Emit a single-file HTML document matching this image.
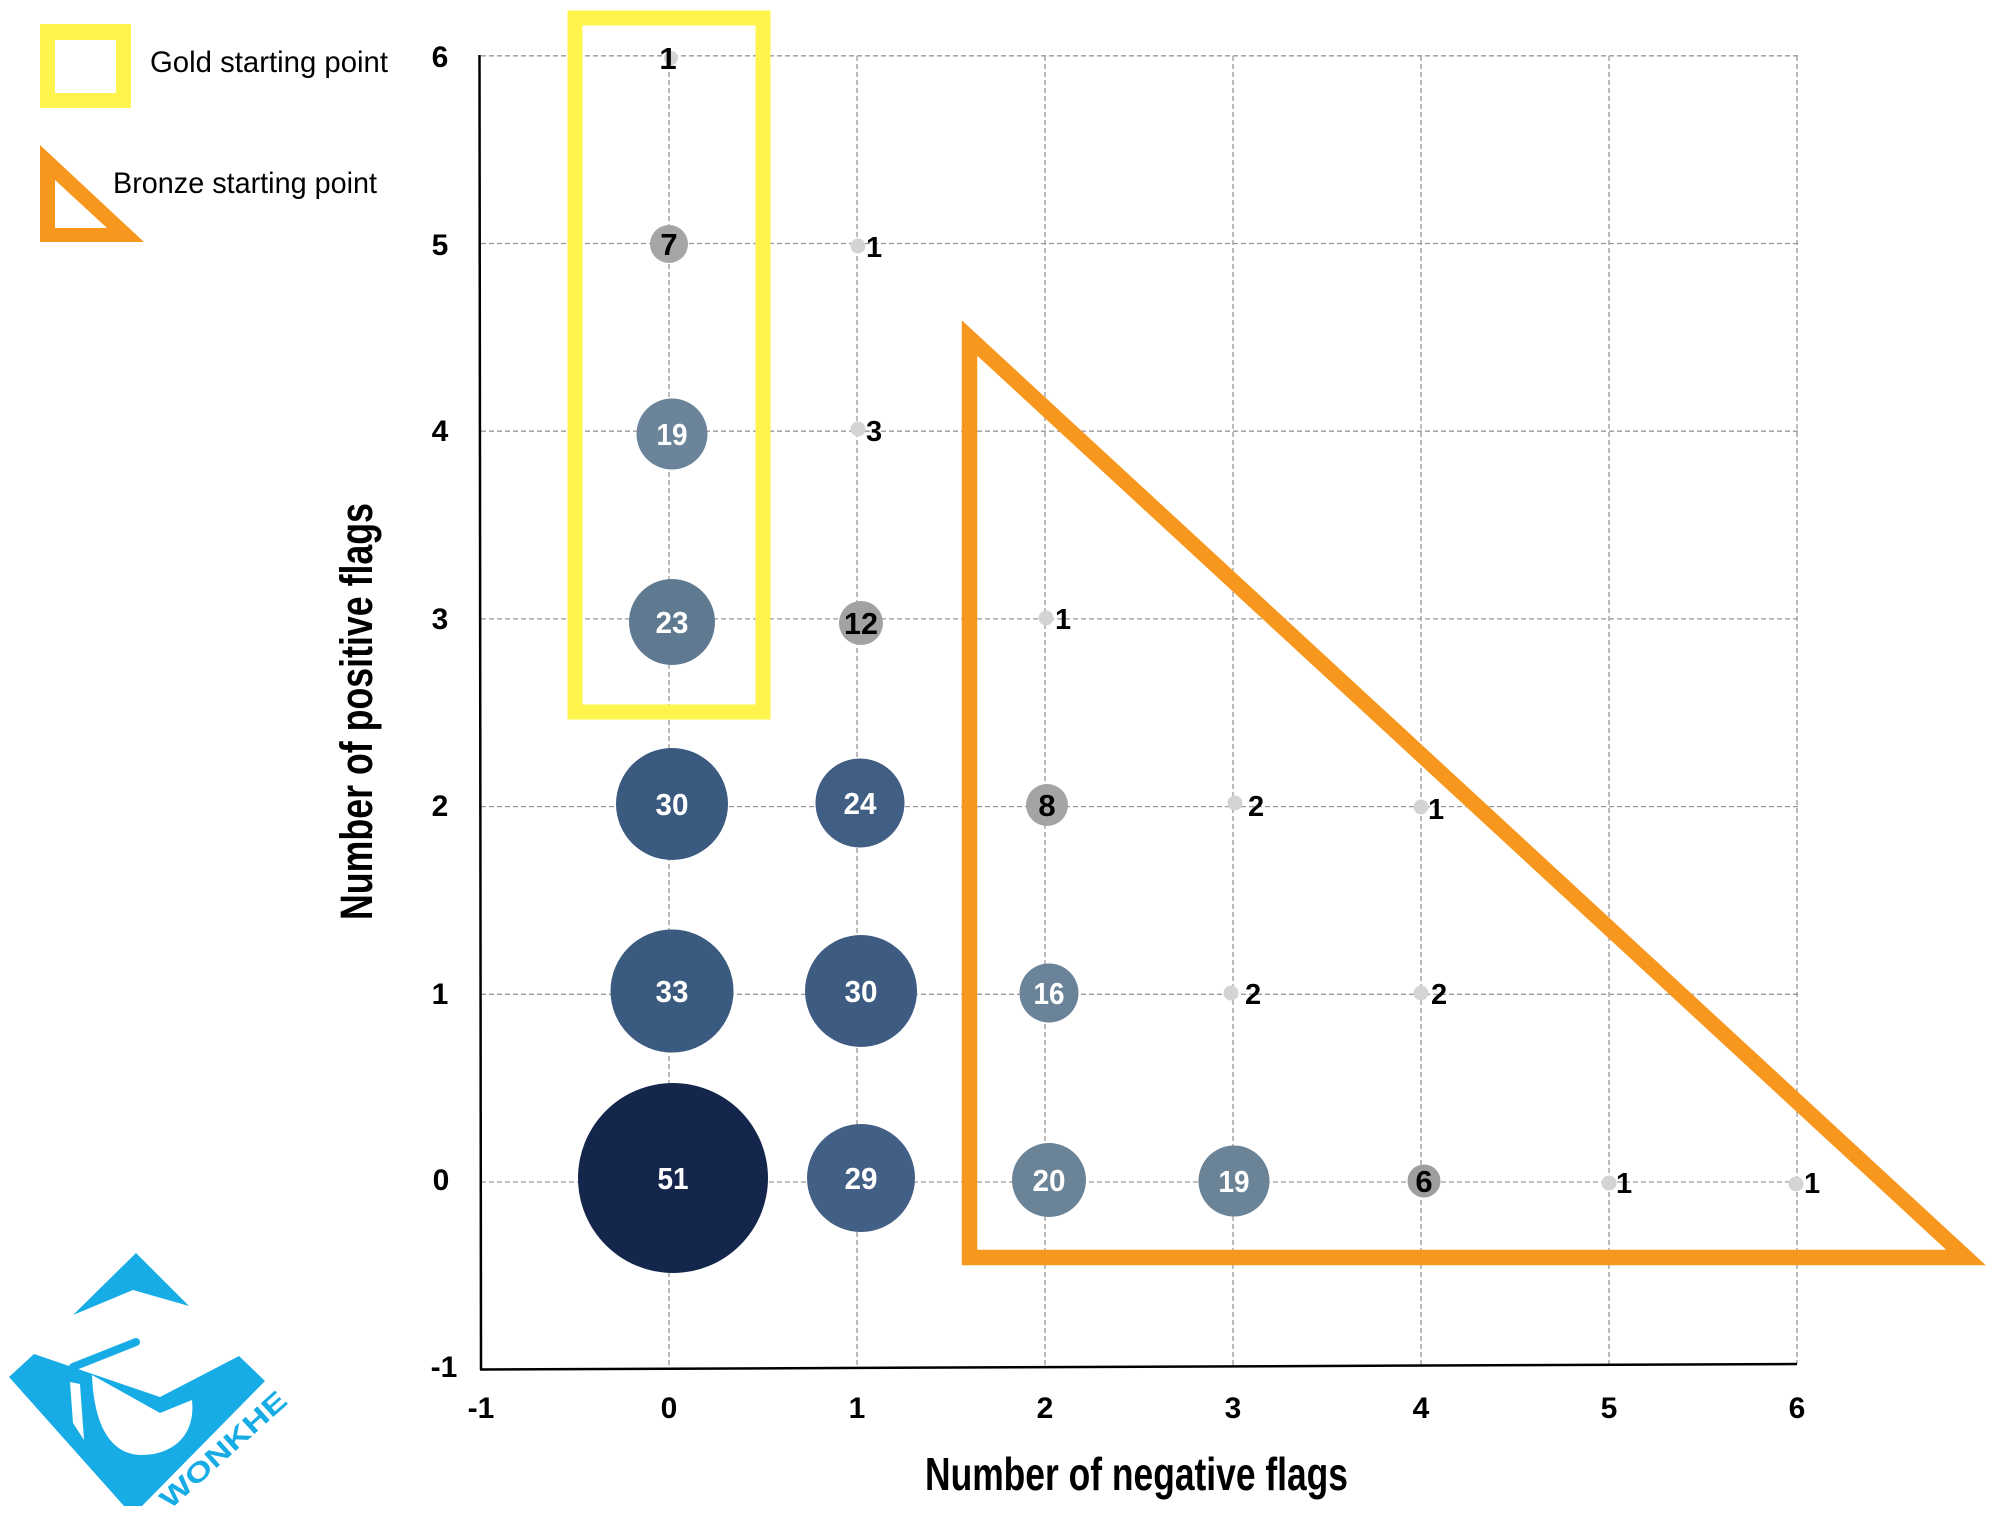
<!DOCTYPE html>
<html><head><meta charset="utf-8">
<style>
html,body{margin:0;padding:0;background:#fff;}
svg{display:block;}
text{font-family:"Liberation Sans",sans-serif;}
</style></head>
<body>
<svg width="2000" height="1521" viewBox="0 0 2000 1521" xmlns="http://www.w3.org/2000/svg">
<rect width="2000" height="1521" fill="#fff"/>
<!-- grid -->
<g stroke="#9a9a9a" stroke-width="1.3" stroke-dasharray="5,3" fill="none">
<line x1="481" y1="55.8" x2="1801" y2="55.8"/>
<line x1="481" y1="243.5" x2="1801" y2="243.5"/>
<line x1="481" y1="431.2" x2="1801" y2="431.2"/>
<line x1="481" y1="618.9" x2="1801" y2="618.9"/>
<line x1="481" y1="806.6" x2="1801" y2="806.6"/>
<line x1="481" y1="994.3" x2="1801" y2="994.3"/>
<line x1="481" y1="1182" x2="1801" y2="1182"/>
<line x1="669" y1="56" x2="669" y2="1368"/>
<line x1="857" y1="56" x2="857" y2="1368"/>
<line x1="1045" y1="56" x2="1045" y2="1367"/>
<line x1="1233" y1="56" x2="1233" y2="1366"/>
<line x1="1421" y1="56" x2="1421" y2="1366"/>
<line x1="1609" y1="56" x2="1609" y2="1365"/>
<line x1="1797" y1="56" x2="1797" y2="1364"/>
</g>
<!-- axes -->
<line x1="479.5" y1="55" x2="481" y2="1370" stroke="#000" stroke-width="2.5"/>
<line x1="480" y1="1369.5" x2="1797" y2="1364" stroke="#000" stroke-width="2.5"/>

<!-- bubbles -->
<g>
<circle cx="673" cy="1178" r="95" fill="#15264d"/>
<circle cx="672" cy="991" r="61.5" fill="#3b5a80"/>
<circle cx="672" cy="804" r="56" fill="#3b5a80"/>
<circle cx="672" cy="622" r="43" fill="#5f7a90"/>
<circle cx="672" cy="434" r="35.5" fill="#6b8499"/>
<circle cx="669" cy="244" r="19" fill="#a4a5a5"/>
<circle cx="671" cy="58" r="7" fill="#d4d4d4"/>
<circle cx="861" cy="1178" r="54" fill="#425f85"/>
<circle cx="861" cy="991" r="56" fill="#3e5c82"/>
<circle cx="860" cy="803" r="44.5" fill="#415e84"/>
<circle cx="861" cy="623" r="22" fill="#a0a2a3"/>
<circle cx="858" cy="429" r="7.5" fill="#d4d4d4"/>
<circle cx="858" cy="246" r="7.5" fill="#d4d4d4"/>
<circle cx="1049" cy="1180" r="37" fill="#6b8397"/>
<circle cx="1049" cy="993" r="29.5" fill="#6b8398"/>
<circle cx="1047" cy="805" r="21" fill="#a2a4a5"/>
<circle cx="1046" cy="618" r="7.5" fill="#d4d4d4"/>
<circle cx="1234" cy="1181" r="35.5" fill="#6b8397"/>
<circle cx="1231" cy="993" r="7.5" fill="#d4d4d4"/>
<circle cx="1235" cy="803" r="7.5" fill="#d4d4d4"/>
<circle cx="1424" cy="1181" r="16.5" fill="#9c9e9f"/>
<circle cx="1421" cy="993" r="7.5" fill="#d4d4d4"/>
<circle cx="1421" cy="807" r="7.5" fill="#d4d4d4"/>
<circle cx="1609" cy="1183" r="7.5" fill="#d4d4d4"/>
<circle cx="1796" cy="1184" r="7.5" fill="#d4d4d4"/>
</g>

<!-- bubble labels -->
<g font-weight="bold" font-size="31" text-anchor="middle" fill="#fff">
<text x="673" y="1189" textLength="31" lengthAdjust="spacingAndGlyphs">51</text>
<text x="672" y="1002" textLength="33" lengthAdjust="spacingAndGlyphs">33</text>
<text x="672" y="815" textLength="33" lengthAdjust="spacingAndGlyphs">30</text>
<text x="672" y="633" textLength="33" lengthAdjust="spacingAndGlyphs">23</text>
<text x="672" y="445" textLength="31" lengthAdjust="spacingAndGlyphs">19</text>
<text x="861" y="1189" textLength="33" lengthAdjust="spacingAndGlyphs">29</text>
<text x="861" y="1002" textLength="33" lengthAdjust="spacingAndGlyphs">30</text>
<text x="860" y="814" textLength="33" lengthAdjust="spacingAndGlyphs">24</text>
<text x="1049" y="1191" textLength="33" lengthAdjust="spacingAndGlyphs">20</text>
<text x="1049" y="1004" textLength="31" lengthAdjust="spacingAndGlyphs">16</text>
<text x="1234" y="1192" textLength="31" lengthAdjust="spacingAndGlyphs">19</text>
</g>
<g font-weight="bold" font-size="31" text-anchor="middle" fill="#000">
<text x="669" y="255">7</text>
<text x="861" y="634" textLength="34" lengthAdjust="spacingAndGlyphs">12</text>
<text x="1047" y="816">8</text>
<text x="1424" y="1192">6</text>
<text x="668" y="69">1</text>
</g>
<g font-weight="bold" font-size="29" fill="#000">
<text x="866" y="257">1</text>
<text x="866" y="441">3</text>
<text x="1055" y="629">1</text>
<text x="1248" y="816">2</text>
<text x="1428" y="819">1</text>
<text x="1245" y="1004">2</text>
<text x="1431" y="1004">2</text>
<text x="1616" y="1193">1</text>
<text x="1804" y="1193">1</text>
</g>

<!-- tick labels -->
<g font-weight="bold" font-size="30" text-anchor="middle" fill="#000">
<text x="440" y="67">6</text>
<text x="440" y="255">5</text>
<text x="440" y="441">4</text>
<text x="440" y="629">3</text>
<text x="440" y="816">2</text>
<text x="440" y="1004">1</text>
<text x="441" y="1190">0</text>
<text x="444" y="1377">-1</text>
<text x="481" y="1418">-1</text>
<text x="669" y="1418">0</text>
<text x="857" y="1418">1</text>
<text x="1045" y="1418">2</text>
<text x="1233" y="1418">3</text>
<text x="1421" y="1418">4</text>
<text x="1609" y="1418">5</text>
<text x="1797" y="1418">6</text>
</g>

<!-- axis titles -->
<text x="925" y="1490" font-weight="bold" font-size="46" textLength="423" lengthAdjust="spacingAndGlyphs" fill="#000">Number of negative flags</text>
<text transform="translate(372,920) rotate(-90)" x="0" y="0" font-weight="bold" font-size="45" textLength="417" lengthAdjust="spacingAndGlyphs" fill="#000">Number of positive flags</text>

<!-- gold rectangle -->
<rect x="575" y="18" width="188" height="694" fill="none" stroke="#fff34d" stroke-width="15"/>
<!-- bronze triangle -->
<polygon points="969.5,338 969.5,1257.5 1966,1257.5" fill="none" stroke="#f8971d" stroke-width="15.5" stroke-linejoin="miter" stroke-miterlimit="6"/>

<!-- legend -->
<path d="M40,24 H131 V108 H40 Z M55,40 V93 H116 V40 Z" fill="#fff34d" fill-rule="evenodd"/>
<text x="150" y="72" font-size="30" textLength="238" lengthAdjust="spacingAndGlyphs" fill="#000">Gold starting point</text>
<path d="M40,145 L144,242 L40,242 Z M55,180 L55,228 L107,228 Z" fill="#f8971d" fill-rule="evenodd"/>
<text x="113" y="193" font-size="30" textLength="264" lengthAdjust="spacingAndGlyphs" fill="#000">Bronze starting point</text>

<!-- logo -->
<g fill="#17ace6">
<polygon points="136,1253 189,1306 133,1290 73,1315"/>
<path d="M9,1377 L34,1354 L160,1397 L239,1356 L265,1381 L142,1506 L124,1506 Z M92,1375 L160,1413 L192,1400 C196,1438 170,1455 142,1455 C112,1455 94,1428 92,1375 Z M70,1382 L80,1384 L84,1440 L73,1423 Z" fill-rule="evenodd"/>
<line x1="73" y1="1367" x2="136" y2="1342" stroke="#17ace6" stroke-width="8" stroke-linecap="round"/>
<text transform="translate(170,1510) rotate(-42)" font-size="27" font-weight="bold" textLength="160" lengthAdjust="spacingAndGlyphs" fill="#17ace6">WONKHE</text>
</g>
</svg>
</body></html>
